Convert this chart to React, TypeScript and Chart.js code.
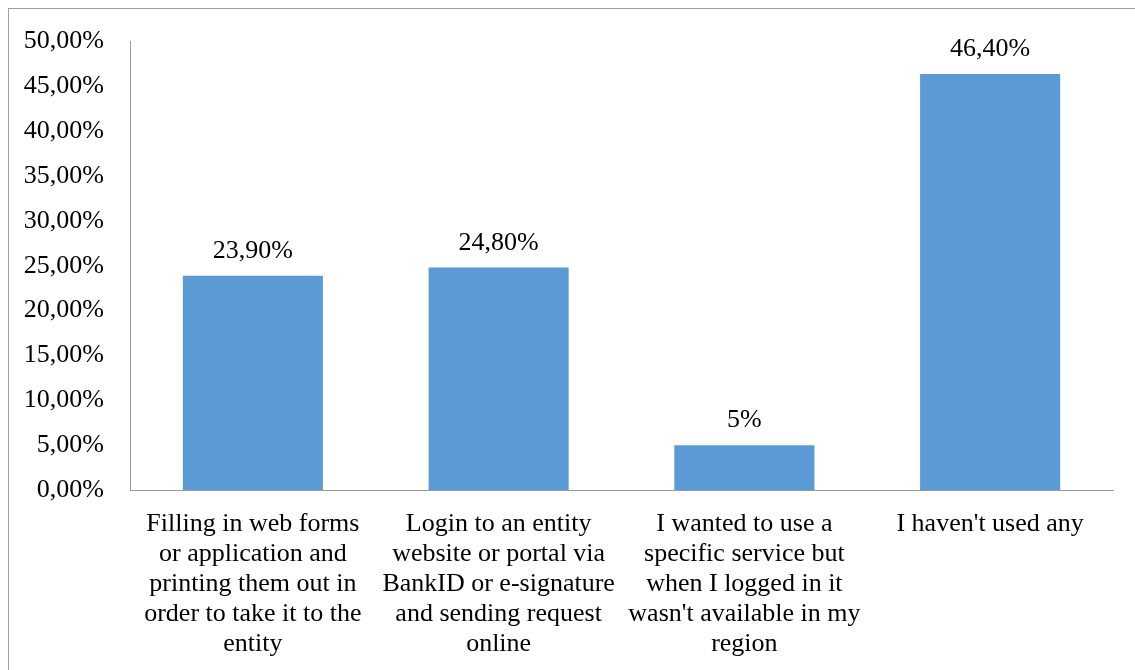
import React, { useEffect, useRef } from "react";
import { Chart, registerables } from "chart.js";

Chart.register(...registerables);

const categories: string[][] = [
  ["Filling in web forms", "or application and", "printing them out in", "order to take it to the", "entity"],
  ["Login to an entity", "website or portal via", "BankID or e-signature", "and sending request", "online"],
  ["I wanted to use a", "specific service but", "when I logged in it", "wasn't available in my", "region"],
  ["I haven't used any"],
];
const values: number[] = [23.9, 24.8, 5, 46.4];
const valueLabels: string[] = ["23,90%", "24,80%", "5%", "46,40%"];
const yMin = 0;
const yMax = 50;
const yStep = 5;

const FONT = "'Liberation Serif', 'Times New Roman', serif";
const FONT_SIZE = 26;

const dataLabelPlugin = {
  id: "dataLabels",
  afterDatasetsDraw(chart: any) {
    const ctx = chart.ctx;
    const meta = chart.getDatasetMeta(0);
    ctx.save();
    ctx.font = `${FONT_SIZE}px ${FONT}`;
    ctx.fillStyle = "#000";
    ctx.textAlign = "center";
    ctx.textBaseline = "alphabetic";
    meta.data.forEach((bar: any, i: number) => {
      ctx.fillText(valueLabels[i], bar.x, bar.y - 18);
    });
    ctx.restore();
  },
};

export default function App() {
  const ref = useRef<HTMLCanvasElement>(null);
  useEffect(() => {
    if (!ref.current) return;
    const chart = new Chart(ref.current, {
      type: "bar",
      data: {
        labels: categories,
        datasets: [
          {
            data: values,
            backgroundColor: "#5B9BD5",
            barPercentage: 0.57,
            categoryPercentage: 1,
          },
        ],
      },
      options: {
        animation: false,
        responsive: false,
        maintainAspectRatio: false,
        layout: { padding: { left: 0, top: 39, right: 22, bottom: 0 } },
        plugins: { legend: { display: false }, tooltip: { enabled: false } },
        scales: {
          x: {
            grid: { display: false, drawTicks: false },
            border: { display: true, color: "#9a9a9a", width: 1 },
            ticks: {
              color: "#000",
              font: { family: FONT, size: FONT_SIZE, lineHeight: "30px" },
              padding: 19,
              maxRotation: 0,
              minRotation: 0,
              autoSkip: false,
            },
            afterFit: (s: any) => {
              s.height = 180;
            },
          },
          y: {
            min: yMin,
            max: yMax,
            grid: { display: false, drawTicks: false },
            border: { display: true, color: "#9a9a9a", width: 1 },
            ticks: {
              stepSize: yStep,
              color: "#000",
              font: { family: FONT, size: FONT_SIZE },
              padding: 26,
              callback: (v: any) => Number(v).toFixed(2).replace(".", ",") + "%",
            },
            afterFit: (s: any) => {
              s.width = 130;
            },
          },
        },
      },
      plugins: [dataLabelPlugin],
    });
    return () => chart.destroy();
  }, []);
  return (
    <>
      <div
        style={{
          position: "fixed",
          left: 8,
          top: 8,
          width: 1127,
          height: 662,
          borderTop: "1px solid #a0a0a0",
          borderLeft: "1px solid #a0a0a0",
          boxSizing: "border-box",
        }}
      />
      <canvas
        ref={ref}
        width={1135}
        height={670}
        style={{ position: "fixed", left: 0, top: 0, width: 1135, height: 670 }}
      />
    </>
  );
}
